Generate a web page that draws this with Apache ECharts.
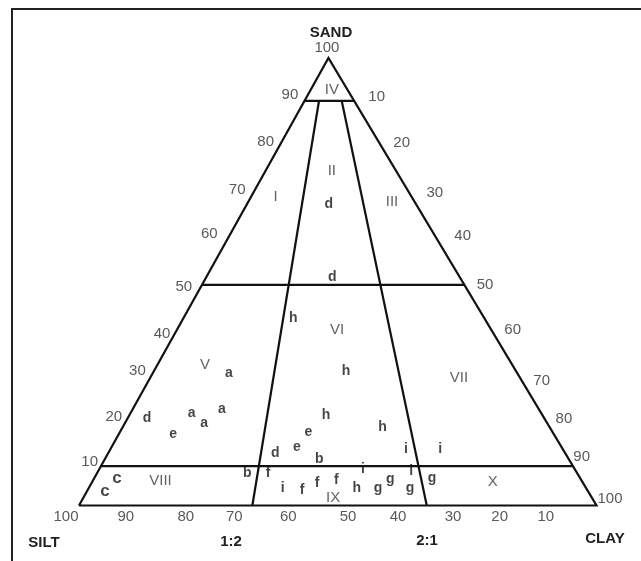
<!DOCTYPE html>
<html><head><meta charset="utf-8">
<script src="https://cdn.jsdelivr.net/npm/echarts@6/dist/echarts.min.js"></script>
<style>html,body{margin:0;padding:0;background:#fff}#c{width:641px;height:561px}</style>
</head><body><div id="c"></div>
<script>
// ---------- DATA ----------
// Sample points (sand %, clay %; silt = 100 - sand - clay)
const sampleLetters = ['a','a','a','a','b','b','c','c','d','d','d','d','e','e','e','f','f','f','f','g','g','g','g','h','h','h','h','h','i','i','i','i','i'];
const sampleSand    = [29.6,20.7,18.4,21.6,10.4,7.3,6.1,3.2,19.6,51.1,67.4,11.7,16.0,16.4,13.1,7.3,3.5,5.0,5.7,3.9,5.9,3.9,6.1,41.9,30.1,20.2,17.5,3.9,12.6,12.6,8.2,7.7,3.9];
const sampleClay    = [14.7,11.8,15.3,17.2,41.4,29.0,4.4,3.5,3.7,24.3,15.8,32.3,10.5,36.4,35.8,33.0,41.4,43.6,47.0,55.9,57.3,62.1,65.3,21.2,37.1,38.0,50.2,51.8,57.1,63.7,50.9,60.5,37.5];

// Class labels
const classNames = ['I','II','III','IV','V','VI','VII','VIII','IX','X'];
const classSand  = [68.9,74.8,67.8,92.9,31.4,39.2,28.5,5.5,1.7,5.3];
const classClay  = [4.8,12.8,27.8,4.1,9.2,31.0,59.7,13.1,48.3,77.4];

// Class boundaries as drawn: horizontal sand levels, and clay/silt ratio lines (clay % at base, clay % at top sand line)
const sandBreaks = [8.8, 49.3, 90.4];
const ratioNames = ['1:2','2:1'];
const ratioBaseClay = [33.5, 67.2];
const ratioTopClay  = [2.8, 7.2];

// Tick labels
const sandTicks = [10,20,30,40,50,60,70,80,90,100];
const clayTicks = [10,20,30,40,50,60,70,80,90,100];
const siltTicks = [100,90,80,70,60,50,40,30,20,10];

// ---------- LAYOUT / STYLE ----------
const APEX = 0.482; // horizontal position of the SAND apex along the base
function tern(sand, clay){ return [clay + APEX*sand, sand]; }
const sandTickOff = [[-14.3,1],[-15.1,1.2],[-16.4,-0.8],[-16.8,7],[-20,5],[-19.4,-3],[-16.4,-2.3],[-12.9,-5.8],[-13.6,-7.8],[-1.5,-10.5]];
const clayTickOff = [[21.4,-6],[19.6,-4.2],[26,1],[27,-1],[22.5,3.3],[23.4,3.5],[25.6,9.4],[21,3.3],[12,-3.4],[13.5,-6.5]];
const siltTickOff = [[-13,11.2],[-5,11.2],[3.3,11.2],[0,11.2],[2.3,11.2],[10.3,11.2],[8.5,11.2],[11.8,11.2],[6.7,11.2],[1,11.2]];
const FONT = '"Liberation Sans", Arial, sans-serif';
const LINE = {color:'#111', width:2.2, join:'miter'};

function lineSeries(pts){
  return {type:'line', data:pts, symbol:'none', silent:true, clip:false, animation:false,
          lineStyle:LINE, z:2};
}
function labelSeries(items, font){
  return {type:'scatter', data:items, symbolSize:1, silent:true, clip:false, animation:false,
    itemStyle:{color:'rgba(0,0,0,0)'}, z:3,
    label:Object.assign({show:true, position:'inside', formatter:p=>p.name,
      textBorderWidth:0, fontFamily:FONT}, font)};
}

const series = [];
// triangle
series.push(lineSeries([tern(0,0), tern(100,0), tern(0,100), tern(0,0)]));
// horizontal sand breaks
sandBreaks.forEach(s => series.push(lineSeries([tern(s,0), tern(s,100-s)])));
// ratio lines
ratioBaseClay.forEach((c,i) => series.push(lineSeries([tern(0,c), tern(sandBreaks[2], ratioTopClay[i])])));

// ticks
const tickItems = [];
sandTicks.forEach((v,i)=>tickItems.push({name:String(v), value:tern(v,0), label:{offset:sandTickOff[i]}}));
clayTicks.forEach((v,i)=>tickItems.push({name:String(v), value:tern(100-v,v), label:{offset:clayTickOff[i]}}));
siltTicks.forEach((v,i)=>tickItems.push({name:String(v), value:tern(0,100-v), label:{offset:siltTickOff[i]}}));
series.push(labelSeries(tickItems, {color:'#2e2e2e', fontSize:15}));

// class names
series.push(labelSeries(classNames.map((n,i)=>({name:n, value:tern(classSand[i], classClay[i])})),
  {color:'#3a3a3a', fontSize:15}));

// samples
series.push(labelSeries(sampleLetters.map((n,i)=>({name:n, value:tern(sampleSand[i], sampleClay[i]),
  label:{fontSize: n==='c'?17:14}})), {color:'#151515', fontWeight:'bold', fontSize:14}));

function title(t,x,y){
  return {type:'text', silent:true, x:x, y:y, z:10,
    style:{text:t, fill:'#222', font:'bold 15px '+FONT, fontSize:15, fontWeight:'bold', fontFamily:FONT,
      align:'center', verticalAlign:'middle', textAlign:'center', textVerticalAlign:'middle'}};
}

const chart = echarts.init(document.getElementById('c'), null, {renderer:'canvas'});
chart.setOption({
  animation:false,
  backgroundColor:'#fff',
  grid:{left:79, right:44.5, top:58, bottom:55.5, containLabel:false},
  xAxis:{type:'value', min:0, max:100, show:false},
  yAxis:{type:'value', min:0, max:100, show:false},
  series: series,
  graphic:[
    {type:'rect', silent:true, shape:{x:12, y:9, width:640, height:560},
      style:{fill:'none', stroke:'#222', lineWidth:2}},
    title('SAND',331,33),
    title('SILT',44,543),
    title(ratioNames[0],231,542),
    title(ratioNames[1],427,541),
    title('CLAY',605,539)
  ]
});
</script>
</body></html>
